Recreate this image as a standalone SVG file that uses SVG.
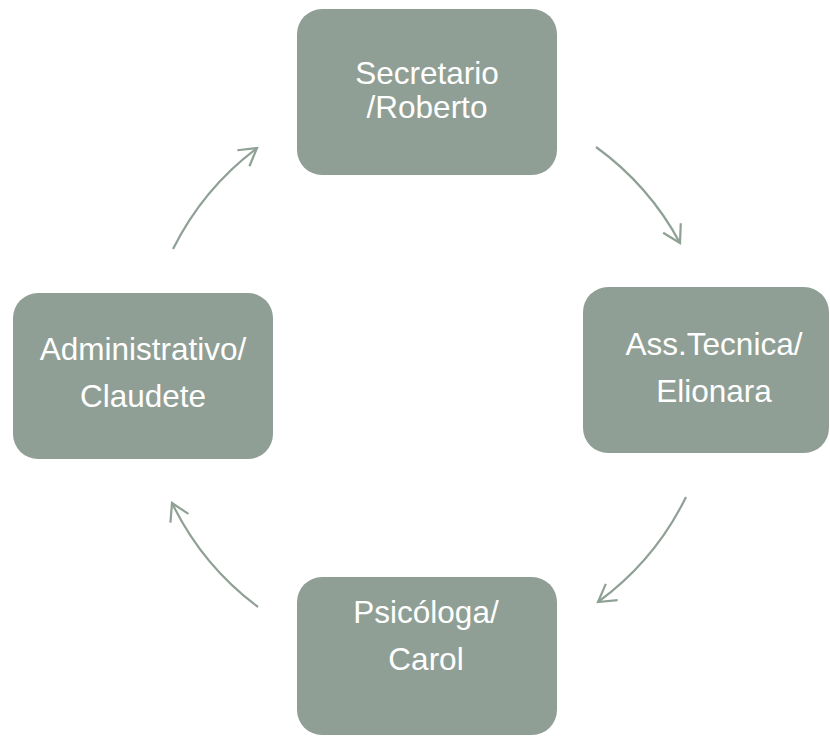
<svg xmlns="http://www.w3.org/2000/svg" width="830" height="741" viewBox="0 0 830 741">
<style>
.box{fill:#909f95;}
.lbl{font-family:"Liberation Sans",Arial,sans-serif;font-size:31.5px;fill:#ffffff;text-anchor:middle;}
.arc{fill:none;stroke:#8fa095;stroke-width:2.2;marker-end:url(#ah);}
</style>
<defs>
<marker id="ah" markerUnits="userSpaceOnUse" markerWidth="40" markerHeight="40" viewBox="-20 -20 40 40" refX="0" refY="0" orient="auto">
<polyline points="-17,-10 0,0 -17,10" fill="none" stroke="#8fa095" stroke-width="2.2" stroke-linejoin="miter"/>
</marker>
</defs>
<rect width="830" height="741" fill="#ffffff"/>
<g id="connectors">
<path class="arc" d="M596,147 A285,285 0 0 1 680,243"/>
<path class="arc" d="M686,497 A285,285 0 0 1 598,602"/>
<path class="arc" d="M258,607 A285,285 0 0 1 172,503"/>
<path class="arc" d="M173,249 A285,285 0 0 1 257,148"/>
</g>
<g id="secretario">
<rect class="box" x="297" y="9" width="260" height="166" rx="25"/>
<text class="lbl" x="427" y="84">Secretario</text>
<text class="lbl" x="427" y="118">/Roberto</text>
</g>
<g id="asstecnica">
<rect class="box" x="583" y="287" width="246" height="166" rx="25"/>
<text class="lbl" x="714" y="355">Ass.Tecnica/</text>
<text class="lbl" x="714" y="402">Elionara</text>
</g>
<g id="psicologa">
<rect class="box" x="297" y="577" width="260" height="158" rx="25"/>
<text class="lbl" x="426" y="623">Psicóloga/</text>
<text class="lbl" x="426" y="670">Carol</text>
</g>
<g id="administrativo">
<rect class="box" x="13" y="293" width="260" height="166" rx="25"/>
<text class="lbl" x="143" y="360">Administrativo/</text>
<text class="lbl" x="143" y="407">Claudete</text>
</g>
</svg>
